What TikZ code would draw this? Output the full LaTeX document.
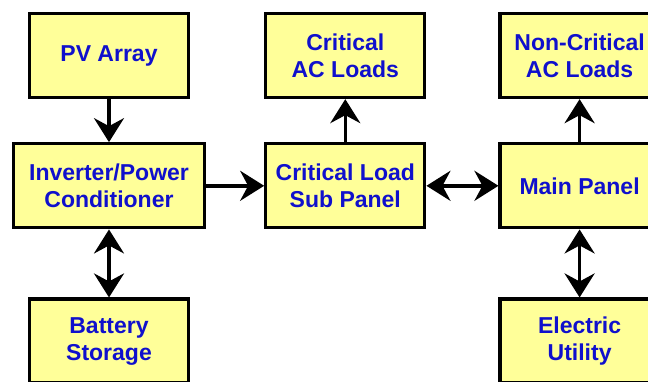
\documentclass[tikz,border=0pt]{standalone}
\usepackage{fontspec}
\setmainfont{Liberation Sans}
\usetikzlibrary{arrows.meta,positioning}

\definecolor{boxfill}{RGB}{255,255,153}
\definecolor{boxtext}{RGB}{16,16,204}

\begin{document}
\begin{tikzpicture}[
  font=\fontsize{23}{27}\selectfont\bfseries,
  >={Stealth[length=24pt, width=30pt, inset=8pt]},
  block/.style={draw, line width=3.3pt, fill=boxfill, text=boxtext, align=center, minimum width=159pt, minimum height=84pt},
  wide/.style={block, minimum width=191pt},
  link/.style={line width=3.5pt}
]
\useasboundingbox (0,0) rectangle (648pt,-381pt);

\node[block] (pv) at (109pt,-55.5pt) {PV Array};
\node[wide, below=43pt of pv] (inv) {Inverter/Power\\Conditioner};
\node[block, below=68pt of inv] (batt) {Battery\\Storage};

\node[block, right=58pt of inv] (sub) {Critical Load\\Sub Panel};
\node[block, above=43pt of sub] (crit) {Critical\\AC Loads};

\node[block, right=72pt of sub] (main) {Main Panel};
\node[block, above=43pt of main] (noncrit) {Non-Critical\\AC Loads};
\node[block, below=68pt of main] (util) {Electric\\Utility};

\draw[->, link] (pv) -- (inv);
\draw[<->, link] (inv) -- (batt);
\draw[->, link] (inv) -- (sub);
\draw[->, link] (sub) -- (crit);
\draw[<->, link] (sub) -- (main);
\draw[->, link] (main) -- (noncrit);
\draw[<->, link] (main) -- (util);

\end{tikzpicture}
\end{document}
